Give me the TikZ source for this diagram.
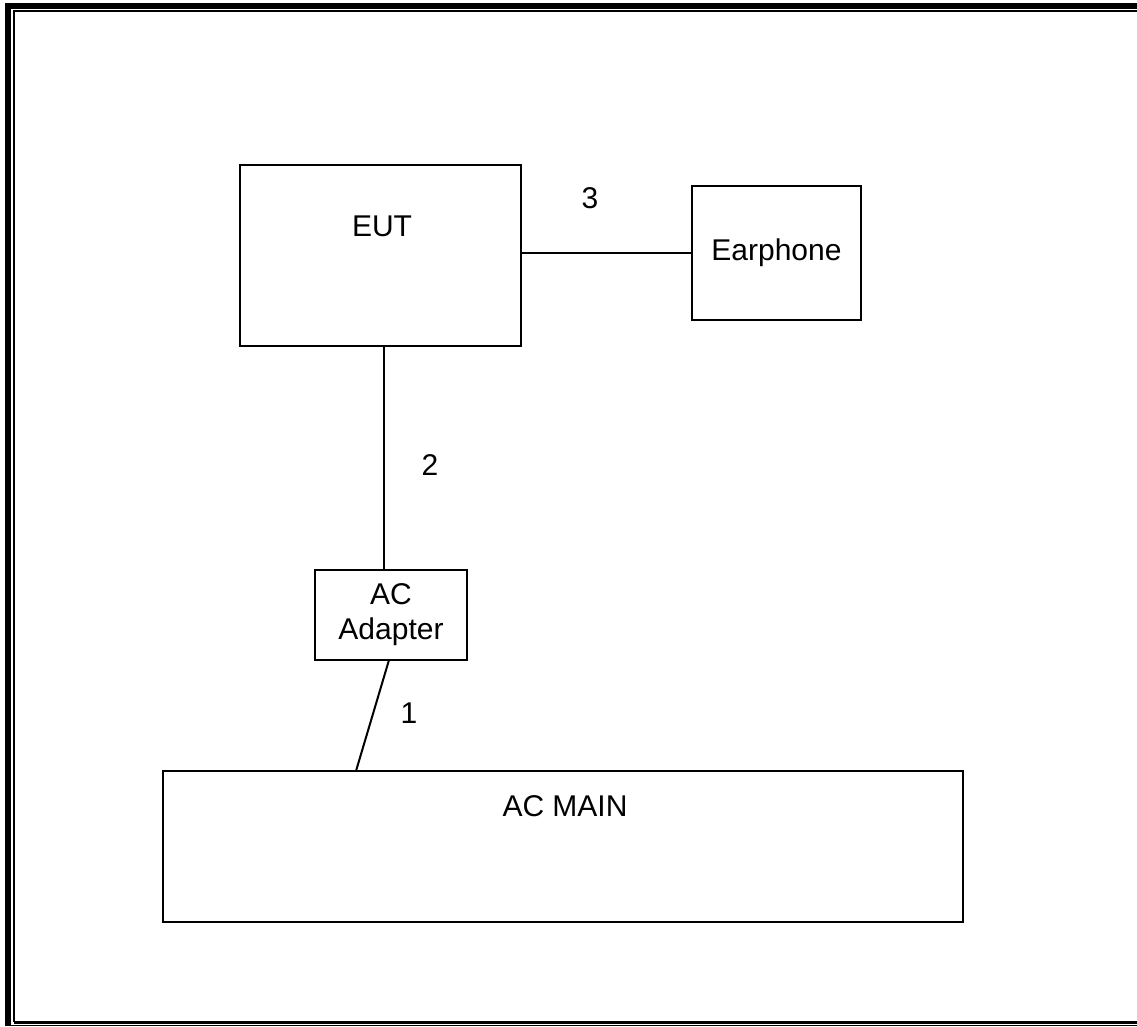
\documentclass[tikz,border=0pt]{standalone}
\usepackage{fontspec}
\setmainfont{Liberation Sans}
\usetikzlibrary{positioning}

\begin{document}
\begin{tikzpicture}[x=1pt,y=-1pt,
        setupbox/.style={draw,line width=2pt,inner sep=0pt,align=center,
                         font=\fontsize{30}{35}\selectfont},
        cablelabel/.style={font=\fontsize{30}{35}\selectfont}]
        \useasboundingbox (0,0) rectangle (1137,1027);
        % page frame
        \draw[line width=6pt] (8,1026) -- (8,6) -- (1137,6);
        \draw[line width=2pt] (14,1022) -- (14,11) -- (1137,11);
        \draw[line width=3pt] (14,1022) -- (1137,1022);
        \draw[line width=1.5pt] (5,1025.5) -- (1137,1025.5);

        \node[setupbox,minimum width=281,minimum height=181] (eut) at (380.5,255.5) {};
        \node[cablelabel] (euttext) at (382,226) {EUT};
        \node[setupbox,minimum width=169,minimum height=134] (earphone) at (776.5,253) {Earphone};
        \node[setupbox,minimum width=152,minimum height=90] (adapter) at (391,615) {AC\\Adapter};
        \node[setupbox,minimum width=800,minimum height=151] (acmain) at (563,846.5) {};
        \node[cablelabel] (acmaintext) at (565,806) {AC MAIN};

        \draw[line width=2pt] (eut.east |- earphone.west) -- (earphone.west);
        \draw[line width=2pt] (eut.south -| adapter.north) ++(-7,0) coordinate (eutout)
              (eutout) -- (eutout |- adapter.north);
        \coordinate (adapterout) at (389,660);
        \coordinate (mainin) at (356,771);
        \draw[line width=2pt] (adapterout) -- (mainin);

        \node[cablelabel] (three) at (590,198) {3};
        \node[cablelabel] (two) at (430,465) {2};
        \node[cablelabel] (one) at (409,713) {1};
    \end{tikzpicture}
\end{document}
